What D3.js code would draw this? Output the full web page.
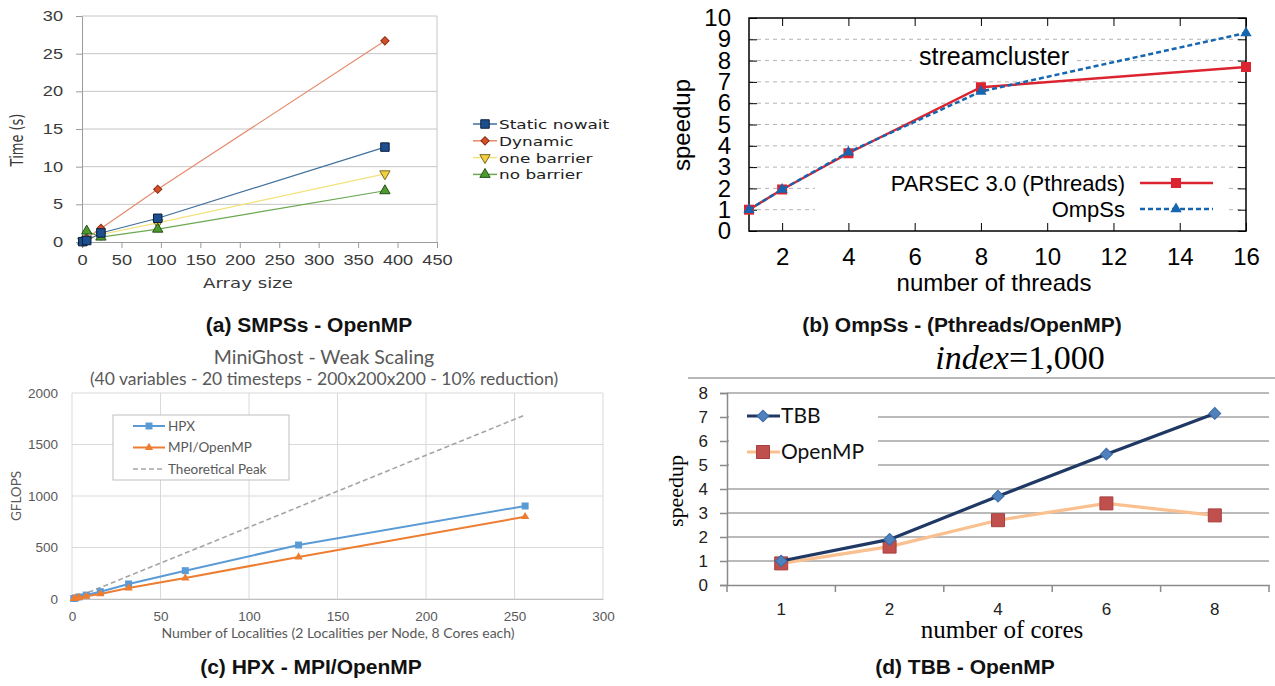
<!DOCTYPE html>
<html>
<head>
<meta charset="utf-8">
<script src="https://cdn.jsdelivr.net/npm/d3@7"></script>
<style>
  body { margin: 0; background: #fff; }
  svg { display: block; }
</style>
</head>
<body>
<svg id="fig" width="1275" height="686"></svg>
<script>
// (a) SMPSs - OpenMP
const arraySizes = [1, 6, 24, 96, 384];
const staticNowait = [0.05, 0.2, 1.2, 3.15, 12.6];
const dynamicA = [0.1, 0.5, 1.8, 7.0, 26.7];
const oneBarrier = [0.1, 0.3, 1.0, 2.55, 9.05];
const noBarrier = [0.1, 1.45, 0.65, 1.7, 6.8];

// (b) OmpSs - (Pthreads/OpenMP)
const threadsB = [1, 2, 4, 8, 16];
const parsecB = [1, 1.95, 3.65, 6.75, 7.7];
const ompssB = [1, 1.95, 3.7, 6.55, 9.3];

// (c) HPX - MPI/OpenMP
const localities = [1, 2, 4, 8, 16, 32, 64, 128, 256];
const hpxC = [5, 10, 20, 38, 71, 146, 275, 524, 903];
const mpiC = [3, 6, 13, 26, 49, 107, 204, 408, 799];
const peakC = [7, 14, 28, 56, 111, 223, 446, 893, 1786];

// (d) TBB - OpenMP
const coresD = ['1', '2', '4', '6', '8'];
const tbbD = [1.0, 1.9, 3.7, 5.45, 7.15];
const openmpD = [0.9, 1.6, 2.7, 3.4, 2.9];

const svg = d3.select('#fig');

function pts(xs, ys) {
    return xs.map(function (d, i) { return [d, ys[i]]; });
}

function marks(g, data, x, y, sym) {
    g.append('g').selectAll('path')
        .data(data)
        .join('path')
        .attr('d', d3.symbol().type(sym.type).size(sym.size))
        .attr('transform', function (d) {
            return `translate(${x(d[0])},${y(d[1])}) rotate(${sym.rotate || 0})`;
        })
        .attr('fill', sym.fill)
        .attr('stroke', sym.stroke || 'none')
        .attr('stroke-width', sym.strokeWidth || 1);
}

const ident = function (d) { return d; };

// ---------- (a) ----------
(function () {
    const x = d3.scaleLinear().domain([0, 450]).range([82, 437]);
    const y = d3.scaleLinear().domain([0, 30]).range([242, 16]);
    const g = svg.append('g').style('font-family', '"DejaVu Sans", sans-serif');

    g.append('g').selectAll('line')
        .data(y.ticks(6).filter(function (d) { return d > 0; }))
        .join('line')
        .attr('x1', x(0)).attr('x2', x(450))
        .attr('y1', function (d) { return y(d); })
        .attr('y2', function (d) { return y(d); })
        .attr('stroke', '#c6c6c6');
    g.append('line')
        .attr('x1', x(450)).attr('x2', x(450))
        .attr('y1', y(0)).attr('y2', y(30))
        .attr('stroke', '#c6c6c6');

    const ax = g.append('g')
        .attr('transform', `translate(0,${y(0)})`)
        .call(d3.axisBottom(x).ticks(9).tickSize(6).tickPadding(7));
    const ay = g.append('g')
        .attr('transform', `translate(${x(0)},0)`)
        .call(d3.axisLeft(y).ticks(6).tickSize(6).tickPadding(8.6));
    [ax, ay].forEach(function (a) {
        a.select('.domain').attr('stroke', '#9c9c9c');
        a.selectAll('.tick line').attr('stroke', '#9c9c9c');
        a.selectAll('text')
            .attr('font-size', 14)
            .attr('fill', '#3a3a3a')
            .attr('transform', 'scale(1.3,1)');
    });

    g.append('text')
        .attr('transform', 'translate(248,288) scale(1.3,1)')
        .attr('text-anchor', 'middle')
        .attr('font-size', 14)
        .attr('fill', '#3a3a3a')
        .text('Array size');
    g.append('text')
        .attr('transform', 'translate(23,140) rotate(-90) scale(1,1.3)')
        .attr('text-anchor', 'middle')
        .attr('font-size', 13)
        .attr('fill', '#3a3a3a')
        .text('Time (s)');

    const series = [
        {name: 'Static nowait', values: staticNowait, line: '#3f6f9a',
            sym: {type: d3.symbolSquare, size: 72, fill: '#1d4e8e', stroke: '#0a2140'}},
        {name: 'Dynamic', values: dynamicA, line: '#e58a6c',
            sym: {type: d3.symbolSquare, size: 34, rotate: 45, fill: '#d4502a', stroke: '#8a2e12'}},
        {name: 'one barrier', values: oneBarrier, line: '#f2e27a',
            sym: {type: d3.symbolTriangle, size: 46, rotate: 180, fill: '#f0d040', stroke: '#7a6a20'}},
        {name: 'no barrier', values: noBarrier, line: '#6aa84f',
            sym: {type: d3.symbolTriangle, size: 46, fill: '#4c9b2c', stroke: '#24501a'}}
    ];
    const line = d3.line().x(function (d) { return x(d[0]); }).y(function (d) { return y(d[1]); });
    [1, 2, 3, 0].forEach(function (i) {
        const s = series[i];
        g.append('path')
            .attr('d', line(pts(arraySizes, s.values)))
            .attr('fill', 'none')
            .attr('stroke', s.line)
            .attr('stroke-width', 1.2);
    });
    [2, 1, 3, 0].forEach(function (i) {
        marks(g, pts(arraySizes, series[i].values), x, y, series[i].sym);
    });

    const lg = g.append('g').attr('transform', 'translate(473,124)');
    series.forEach(function (s, i) {
        const row = lg.append('g').attr('transform', `translate(0,${i * 16.8})`);
        row.append('line').attr('x1', 0).attr('x2', 24)
            .attr('stroke', s.line).attr('stroke-width', 1.5);
        marks(row, [[12, 0]], ident, ident, s.sym);
        row.append('text')
            .attr('transform', 'translate(26,5) scale(1.3,1)')
            .attr('font-size', 13)
            .attr('fill', '#222')
            .text(s.name);
    });
})();

// ---------- (b) ----------
(function () {
    const x = d3.scaleLinear().domain([1, 16]).range([749, 1246]);
    const y = d3.scaleLinear().domain([0, 10]).range([231, 18]);
    const g = svg.append('g').style('font-family', '"Liberation Sans", Arial, sans-serif');

    g.append('g').selectAll('line')
        .data(d3.range(1, 10))
        .join('line')
        .attr('x1', x(1)).attr('x2', x(16))
        .attr('y1', function (d) { return y(d); })
        .attr('y2', function (d) { return y(d); })
        .attr('stroke', '#b4b4b4')
        .attr('stroke-dasharray', '4,4');

    // text sits on opaque boxes, breaking the grid
    g.append('rect').attr('x', 912).attr('y', 48).attr('width', 162).attr('height', 24).attr('fill', '#fff');
    g.append('rect').attr('x', 815).attr('y', 172).attr('width', 411).attr('height', 50).attr('fill', '#fff');

    g.append('text')
        .attr('x', 994).attr('y', 65)
        .attr('text-anchor', 'middle')
        .attr('font-size', 25)
        .text('streamcluster');

    const xt = [2, 4, 6, 8, 10, 12, 14, 16];
    const ab = g.append('g').attr('transform', `translate(0,${y(0)})`)
        .call(d3.axisBottom(x).tickValues(xt).tickSize(-8).tickPadding(17));
    const at = g.append('g').attr('transform', `translate(0,${y(10)})`)
        .call(d3.axisTop(x).tickValues(xt).tickSize(-8).tickFormat(''));
    const al = g.append('g').attr('transform', `translate(${x(1)},0)`)
        .call(d3.axisLeft(y).ticks(10).tickSize(-8).tickPadding(18));
    const ar = g.append('g').attr('transform', `translate(${x(16)},0)`)
        .call(d3.axisRight(y).ticks(10).tickSize(-8).tickFormat(''));
    [ab, at, al, ar].forEach(function (a) {
        a.select('.domain').remove();
        a.selectAll('.tick line').attr('stroke', '#000');
        a.selectAll('text').attr('font-size', 24).attr('fill', '#000');
    });
    g.append('rect')
        .attr('x', x(1)).attr('y', y(10))
        .attr('width', x(16) - x(1)).attr('height', y(0) - y(10))
        .attr('fill', 'none').attr('stroke', '#000').attr('stroke-width', 1.5);

    g.append('text')
        .attr('x', 994).attr('y', 291)
        .attr('text-anchor', 'middle')
        .attr('font-size', 24)
        .text('number of threads');
    g.append('text')
        .attr('transform', 'translate(690,125) rotate(-90)')
        .attr('text-anchor', 'middle')
        .attr('font-size', 24)
        .text('speedup');

    const line = d3.line().x(function (d) { return x(d[0]); }).y(function (d) { return y(d[1]); });
    const series = [
        {name: 'PARSEC 3.0 (Pthreads)', values: parsecB, color: '#dc2430', dash: null,
            sym: {type: d3.symbolSquare, size: 100, fill: '#dc2430'}},
        {name: 'OmpSs', values: ompssB, color: '#1565b0', dash: '5,3',
            sym: {type: d3.symbolTriangle, size: 55, fill: '#1565b0'}}
    ];
    series.forEach(function (s) {
        g.append('path')
            .attr('d', line(pts(threadsB, s.values)))
            .attr('fill', 'none')
            .attr('stroke', s.color)
            .attr('stroke-width', 2.5)
            .attr('stroke-dasharray', s.dash);
        marks(g, pts(threadsB, s.values), x, y, s.sym);
    });

    series.forEach(function (s, i) {
        const yy = 183 + i * 26;
        g.append('text')
            .attr('x', 1125).attr('y', yy + 8)
            .attr('text-anchor', 'end')
            .attr('font-size', 22)
            .text(s.name);
        g.append('line')
            .attr('x1', 1140).attr('x2', 1213)
            .attr('y1', yy).attr('y2', yy)
            .attr('stroke', s.color).attr('stroke-width', 2.5)
            .attr('stroke-dasharray', s.dash);
        marks(g, [[1176, yy]], ident, ident, s.sym);
    });
})();

// ---------- (c) ----------
(function () {
    const x = d3.scaleLinear().domain([0, 300]).range([72, 603]);
    const y = d3.scaleLinear().domain([0, 2000]).range([599, 393]);
    const g = svg.append('g').style('font-family', 'Lato, "Open Sans", sans-serif');

    g.append('text')
        .attr('x', 324).attr('y', 364)
        .attr('text-anchor', 'middle')
        .attr('font-size', 19.5)
        .attr('fill', '#595959')
        .text('MiniGhost - Weak Scaling');
    g.append('text')
        .attr('x', 324).attr('y', 385)
        .attr('text-anchor', 'middle')
        .attr('font-size', 17.5)
        .attr('fill', '#595959')
        .text('(40 variables - 20 timesteps - 200x200x200 - 10% reduction)');

    g.append('g').selectAll('line')
        .data(y.ticks(4))
        .join('line')
        .attr('x1', x(0)).attr('x2', x(300))
        .attr('y1', function (d) { return y(d); })
        .attr('y2', function (d) { return y(d); })
        .attr('stroke', '#d9d9d9');
    g.append('g').selectAll('line')
        .data(x.ticks(6))
        .join('line')
        .attr('x1', function (d) { return x(d); })
        .attr('x2', function (d) { return x(d); })
        .attr('y1', y(0)).attr('y2', y(2000))
        .attr('stroke', '#d9d9d9');

    const ab = g.append('g').attr('transform', `translate(0,${y(0)})`)
        .call(d3.axisBottom(x).ticks(6).tickSize(0).tickPadding(12));
    const al = g.append('g').attr('transform', `translate(${x(0)},0)`)
        .call(d3.axisLeft(y).ticks(4).tickFormat(d3.format('d')).tickSize(0).tickPadding(14));
    ab.select('.domain').attr('stroke', '#bfbfbf');
    al.select('.domain').remove();
    [ab, al].forEach(function (a) {
        a.selectAll('text').attr('font-size', 13.5).attr('fill', '#595959');
    });

    g.append('text')
        .attr('x', 338).attr('y', 638)
        .attr('text-anchor', 'middle')
        .attr('font-size', 14)
        .attr('fill', '#595959')
        .text('Number of Localities (2 Localities per Node, 8 Cores each)');
    g.append('text')
        .attr('transform', 'translate(21,496) rotate(-90)')
        .attr('text-anchor', 'middle')
        .attr('font-size', 13.5)
        .attr('fill', '#595959')
        .text('GFLOPS');

    const line = d3.line().x(function (d) { return x(d[0]); }).y(function (d) { return y(d[1]); });
    const series = [
        {name: 'HPX', values: hpxC, color: '#5b9bd5', dash: null, width: 2,
            sym: {type: d3.symbolSquare, size: 49, fill: '#5b9bd5'}},
        {name: 'MPI/OpenMP', values: mpiC, color: '#ed7d31', dash: null, width: 2,
            sym: {type: d3.symbolTriangle, size: 30, fill: '#ed7d31'}},
        {name: 'Theoretical Peak', values: peakC, color: '#a5a5a5', dash: '5,3', width: 1.6, sym: null}
    ];
    [2, 0, 1].forEach(function (i) {
        const s = series[i];
        g.append('path')
            .attr('d', line(pts(localities, s.values)))
            .attr('fill', 'none')
            .attr('stroke', s.color)
            .attr('stroke-width', s.width)
            .attr('stroke-dasharray', s.dash);
        if (s.sym) marks(g, pts(localities, s.values), x, y, s.sym);
    });

    g.append('rect')
        .attr('x', 113).attr('y', 415).attr('width', 176).attr('height', 65)
        .attr('fill', '#fff').attr('stroke', '#bfbfbf');
    series.forEach(function (s, i) {
        const yy = 426 + i * 21.5;
        g.append('line')
            .attr('x1', 133).attr('x2', 165).attr('y1', yy).attr('y2', yy)
            .attr('stroke', s.color).attr('stroke-width', s.width)
            .attr('stroke-dasharray', s.dash);
        if (s.sym) marks(g, [[149, yy]], ident, ident, s.sym);
        g.append('text')
            .attr('x', 168).attr('y', yy + 4.5)
            .attr('font-size', 13.5)
            .attr('fill', '#595959')
            .text(s.name);
    });
})();

// ---------- (d) ----------
(function () {
    const x = d3.scaleBand().domain(coresD).range([727, 1269]);
    const y = d3.scaleLinear().domain([0, 8]).range([585, 393]);
    const g = svg.append('g').style('font-family', 'Lato, "Open Sans", sans-serif');
    const serif = '"Liberation Serif", "DejaVu Serif", serif';

    const title = g.append('text')
        .attr('x', 1020).attr('y', 369)
        .attr('text-anchor', 'middle')
        .attr('font-family', serif)
        .attr('font-size', 34);
    title.append('tspan').attr('font-style', 'italic').text('index');
    title.append('tspan').text('=1,000');
    g.append('line')
        .attr('x1', 688).attr('x2', 1275).attr('y1', 378).attr('y2', 378)
        .attr('stroke', '#a0a0a0').attr('stroke-width', 1.5);

    g.append('g').selectAll('line')
        .data(y.ticks(8).filter(function (d) { return d > 0; }))
        .join('line')
        .attr('x1', x.range()[0]).attr('x2', x.range()[1])
        .attr('y1', function (d) { return y(d); })
        .attr('y2', function (d) { return y(d); })
        .attr('stroke', '#a3a3a3')
        .attr('stroke-width', 1.5);
    g.append('rect')
        .attr('x', 729).attr('y', 400).attr('width', 149).attr('height', 76)
        .attr('fill', '#fff');

    const al = g.append('g').attr('transform', `translate(${x.range()[0]},0)`)
        .call(d3.axisLeft(y).ticks(8).tickSize(7).tickPadding(12));
    al.select('.domain').attr('stroke', '#8a8a8a').attr('stroke-width', 1.5);
    al.selectAll('.tick line').attr('stroke', '#8a8a8a').attr('stroke-width', 1.5);
    al.selectAll('text').attr('font-size', 17).attr('fill', '#222');

    const ab = g.append('g').attr('transform', `translate(0,${y(0)})`)
        .call(d3.axisBottom(x).tickSize(0).tickPadding(18));
    ab.select('.domain').attr('stroke', '#8a8a8a').attr('stroke-width', 1.5);
    ab.selectAll('text').attr('font-size', 17).attr('fill', '#222');
    g.append('g').selectAll('line')
        .data(coresD.map(function (c) { return x(c); }).concat([x.range()[1]]))
        .join('line')
        .attr('x1', ident)
        .attr('x2', ident)
        .attr('y1', y(0)).attr('y2', y(0) + 7)
        .attr('stroke', '#8a8a8a').attr('stroke-width', 1.5);

    g.append('text')
        .attr('x', 1002).attr('y', 638)
        .attr('text-anchor', 'middle')
        .attr('font-family', serif)
        .attr('font-size', 25)
        .text('number of cores');
    g.append('text')
        .attr('transform', 'translate(683,491) rotate(-90)')
        .attr('text-anchor', 'middle')
        .attr('font-family', serif)
        .attr('font-size', 22)
        .text('speedup');

    const cx = function (d) { return x(d[0]) + x.bandwidth() / 2; };
    const line = d3.line().x(cx).y(function (d) { return y(d[1]); });
    const series = [
        {name: 'TBB', values: tbbD, color: '#1f3864',
            sym: {type: d3.symbolSquare, size: 70, rotate: 45, fill: '#4f81bd', stroke: '#3a6aa5'}},
        {name: 'OpenMP', values: openmpD, color: '#fac08f',
            sym: {type: d3.symbolSquare, size: 169, fill: '#c0504d', stroke: '#a8403d'}}
    ];
    [1, 0].forEach(function (i) {
        const s = series[i];
        g.append('path')
            .attr('d', line(pts(coresD, s.values)))
            .attr('fill', 'none')
            .attr('stroke', s.color)
            .attr('stroke-width', 3.2);
        marks(g, pts(coresD, s.values), function (c) { return x(c) + x.bandwidth() / 2; }, y, s.sym);
    });

    series.forEach(function (s, i) {
        const yy = 416 + i * 36;
        g.append('line')
            .attr('x1', 747).attr('x2', 780).attr('y1', yy).attr('y2', yy)
            .attr('stroke', s.color).attr('stroke-width', 3.2);
        marks(g, [[763, yy]], ident, ident, s.sym);
        g.append('text')
            .attr('x', 781).attr('y', yy + 7)
            .attr('font-size', 21)
            .attr('fill', '#111')
            .text(s.name);
    });
})();

// ---------- captions ----------
const captions = ['(a) SMPSs - OpenMP', '(b) OmpSs - (Pthreads/OpenMP)', '(c) HPX - MPI/OpenMP', '(d) TBB - OpenMP'];
const captionX = [309, 962, 311, 965];
const captionY = [332, 332, 674, 674];
svg.append('g')
    .style('font-family', '"Liberation Sans", Arial, sans-serif')
    .selectAll('text')
    .data(captions)
    .join('text')
    .attr('x', function (d, i) { return captionX[i]; })
    .attr('y', function (d, i) { return captionY[i]; })
    .attr('text-anchor', 'middle')
    .attr('font-size', 21)
    .attr('font-weight', 'bold')
    .attr('fill', '#111')
    .text(function (d) { return d; });
</script>
</body>
</html>
